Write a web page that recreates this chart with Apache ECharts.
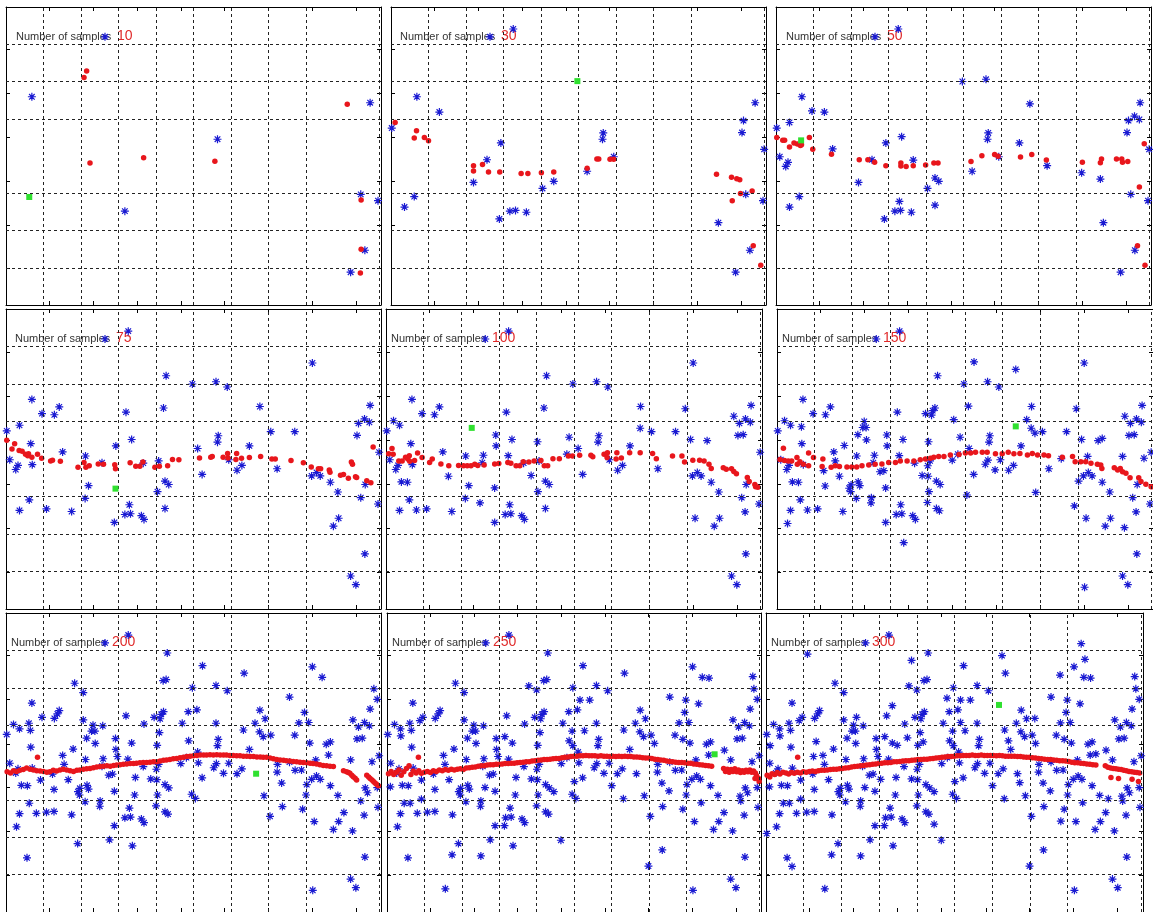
<!DOCTYPE html>
<html>
<head>
<meta charset="utf-8">
<script src="https://cdn.jsdelivr.net/npm/echarts@6/dist/echarts.min.js"></script>
<style>
  html, body { margin: 0; padding: 0; background: #fff; }
  #chart { width: 1153px; height: 912px; }
</style>
</head>
<body>
<div id="chart"></div>
<script>
// number of samples shown in each panel
const sampleCounts = [10, 30, 50, 75, 100, 150, 200, 250, 300];

// blue samples, in the batches added between two panels
const blueAdded10 = [[6.9,55.9],[26.4,72],[31.7,25.2],[56.4,44.5],[97.1,54.3],[94.6,29.7],[99.2,28],[95.7,14.7],[91.9,8.8]];
const blueAdded30 = [[0.2,47.5],[12.9,51.8],[3.6,26.3],[6.2,29.1],[22,32.9],[25.6,39],[29.3,43.5],[28.9,23.1],[33.2,25.4],[36.1,24.9],
  [32.6,74.1],[40.4,31.3],[43.4,33.2],[52.3,35.9],[56.6,46.2],[59.4,39.8],[87.3,22.1],[94,49.5],[93.6,46.3],[99.5,41.8]];
const blueAdded50 = [[9.6,52.1],[3.6,49],[1,39.8],[3.2,38.3],[2.6,37.2],[15.1,41.9],[32.9,27.8],[33.5,45.2],[36.6,38.9],[42.4,34.1],
  [42.4,26.8],[49.7,60],[56,60.6],[64.9,43.5],[67.7,54],[72.3,37.4],[81.5,35.5],[86.5,33.8],[95.6,50.7],[96.9,49.8]];
const blueAdded75 = [[14.2,53.9],[6.6,44.1],[7,38.5],[10.8,26.7],[17.5,26],[21.2,40.8],[21.1,29.5],[32,52.5],[36.8,23.9],[40.7,39.5],
  [42.7,62.2],[42,53.6],[59,59.2],[51.1,42.8],[61.6,37],[62.9,38.3],[70.6,47.3],[77,47.3],[81.7,65.6],[82.8,36.4],
  [83.8,35.5],[88.5,31.2],[88.7,24.2],[95.8,33.2],[93.3,6.5]];
const blueAdded100 = [[2,50.2],[4.1,33.9],[5.7,33.8],[8.1,26.4],[16.6,35.4],[25.9,41],[25,28.3],[28.9,32.3],[29.2,46.4],[32.5,40.9],
  [38.6,35.6],[40.3,44.6],[48.7,45.8],[48.1,41.3],[67.6,48.2],[79.6,53.4],[81,45.2],[85.4,44.9],[82.2,24.2],[92.5,51.4],
  [95,46.5],[95.5,25.9]];
const blueAdded150 = [[6.5,48.6],[2.8,22.8],[12.4,36.9],[15.5,39.5],[12.8,32.8],[17.9,43.6],[21.5,46.5],[23.2,50],[22.8,48.4],[23.7,48.4],
  [23.8,45.1],[27.4,36.6],[28.4,36.9],[19.2,32.2],[19.7,33.1],[21.6,33.9],[19.6,31.3],[25.1,29.7],[33.7,17.7],[40.1,38.2],
  [40.2,35.4],[40,28.4],[39.5,52.1],[41.4,52.9],[41.1,51.7],[43.2,26.2],[52.4,65.9],[50.9,54.1],[47,50.5],[46.6,39.7],
  [50.5,30.4],[55.4,38.6],[56.1,39.7],[58,37.1],[63.5,63.9],[66.4,50.5],[68.6,46.9],[68.8,31.1],[75.6,40.1],[82.6,40.7],
  [80.2,34.1],[79.1,27.5],[86.5,45.5],[97.6,40.2],[91.9,40.7],[92.4,21.7],[81.8,5.8]];
const blueAdded200 = [[13.7,53],[6.1,50.5],[5.6,14.5],[9.2,35.3],[12.8,26.9],[18.3,61.2],[20.6,58.7],[20.6,51.4],[25.8,49.8],[29.7,41.6],
  [27.6,19.3],[34.5,36],[34.3,31.3],[36.8,50.3],[40.9,48],[41.9,61.9],[43,69.3],[48.6,53.6],[49.5,31.5],[51.3,39.9],
  [56,50.5],[63.3,48.7],[69.1,51.7],[70.4,25.6],[72.4,39.5],[73.5,34.5],[73.7,28.2],[75.6,57.5],[77.1,37.9],[78.8,38],
  [78.1,50.6],[80,31.3],[84.3,62.8],[80.7,50.7],[86,42],[90.1,26.6],[98.1,59.7],[99,56.9],[99,33.3],[96.4,31.9],[19.1,18.3]];
const blueAdded250 = [[15.6,6.2],[37.9,60.5],[40,59.4],[51.6,56.7],[54.2,56.7],[49.5,48.4],[49.7,44.5],[52.8,48.5],[46.5,19.2],[31.5,46.9],
  [31.4,23.1],[25.1,15],[17.4,15.3],[8.8,51.2],[3.7,47.1],[0.9,33.5],[4.6,29.1],[9.2,30.2],[26.2,33.3],[44.6,32.2],
  [50.1,34.9],[71.5,45.1],[66.7,37],[63.2,30.3],[60.1,33.8],[69.9,12.3],[73.6,16.6],[75.4,32.4],[79.9,56.7],[79.1,46.2],
  [86.1,62.6],[83.3,55.7],[84,29.2],[90.2,43.3],[94.4,31],[97.8,63]];
const blueAdded300 = [[11,69],[0.2,21],[6.9,12.2],[38.6,67.3],[62.6,68.6],[48,57.2],[51.6,50.7],[44.6,23.5],[64.3,45.8],[71.3,51.8],
  [78,63.4],[78.2,24.3],[83.6,71.8],[84.6,67.6],[87.5,42.3],[90.8,30.3],[12.6,41.6],[13.3,45.6],[1.1,44.5],[24,52.1],
  [33.5,55.2],[34.8,44.6],[30.4,35.5],[37.5,46.6],[41.7,45.5],[67.3,34.6]];

// red estimates, one list per panel
const red10 = [[21.5,62.8],[20.8,61.1],[22.4,38.1],[36.7,39.5],[55.7,38.6],[91,53.9],[94.7,28.2],[94.7,15],[94.5,8.6]];
const red30 = [[1.1,49],[6.8,46.8],[6.2,44.8],[8.9,45],[10,44.1],[22,37.4],[22,36],[24.4,37.7],[26,35.7],[29,35.7],
  [34.7,35.3],[36.5,35.3],[40.1,35.5],[43.4,35.7],[52.3,36.7],[54.9,39.2],[55.4,39.2],[58.4,39.1],[59.4,39.1],[86.8,35.1],
  [90.8,34.3],[92.2,33.9],[93,33.6],[93.2,29.9],[91,28],[96.3,30.6],[96.6,15.9],[98.6,10.7]];
const red50 = [[0.2,45],[1.8,44.2],[2.3,44.2],[3.6,42.4],[4.8,43.5],[5.7,43.2],[6.5,42.8],[6.8,43],[8.9,45],[9.8,41.8],
  [14.8,40.5],[22.2,39],[24.5,39],[26.3,38.3],[29.3,37.4],[33.3,38.1],[33.3,37.3],[34.7,37.2],[36.6,37.4],[39.9,37.6],
  [42.1,38.1],[43.2,38.1],[52,38.5],[54.9,40.1],[58.3,40.4],[59.2,39.9],[65.2,39.7],[68.2,40.4],[72.1,38.9],[81.7,38.3],
  [86.5,38.2],[86.8,39.2],[90.8,39.2],[92.2,39.2],[92.4,38.3],[93.8,38.5],[98.2,43.3],[96.9,31.7],[96.4,15.9],[98.4,10.7]];
const red75 = [[0.2,45],[1.6,42.7],[2.3,44.1],[3.5,42.3],[4.3,42.1],[5.2,41.3],[6,41.4],[5.8,40.9],[6.9,40.5],[8.4,41.3],
  [9.5,40.2],[11.9,39.5],[12.4,39.7],[14.5,39.4],[19.2,37.8],[20.8,39.1],[21.3,37.8],[22.2,38.2],[24.6,38.7],[26,38.6],
  [29,38.5],[29.2,37.4],[33.1,39],[34.6,38.1],[35.7,38.1],[36.5,39.2],[39.7,37.8],[40.9,38.1],[43.1,38.2],[44.4,39.9],
  [46.1,39.8],[51.6,40.3],[54.6,40.5],[55,40.7],[57.9,40.5],[59.1,41.5],[59.2,40.3],[61.5,41.5],[61.3,39.9],[62.8,40.2],
  [64.9,40.4],[67.9,40.7],[70.9,40],[71.8,40],[76,39.6],[79.3,39],[81.4,37.9],[83.3,37.4],[83.9,37.4],[86.2,37.1],
  [86.4,36.5],[89.2,35.7],[90,35.9],[91.3,34.9],[92.1,39.2],[92.4,38.6],[93.2,35.3],[93.5,35.1],[96.2,34.2],[97.3,33.7],[97.9,43.2]];
const red100 = [[0.7,41.4],[1.6,42.8],[1.9,41.3],[3.4,39.5],[4.3,39.5],[5.2,40.5],[5.8,40],[6.2,40.9],[6.3,39.4],[7.6,39.6],
  [8.4,41.6],[9.6,40.4],[11.6,39.1],[12.3,40],[14.6,38.7],[16.7,38.2],[19.3,38.3],[20.6,38.2],[21.6,38.2],[22.6,38.2],
  [23.6,38.6],[24.4,38.3],[26.1,38.4],[28.9,38.7],[30,38.8],[32.4,39.1],[33.2,38.9],[34.6,38.2],[35.6,38.2],[36.5,39.3],
  [38,39.2],[39.4,39.5],[41.2,39.6],[42.1,38.2],[43,38.2],[44.4,40.1],[46.1,40.1],[48.5,40.8],[49.6,40.8],[51.5,41],
  [54.5,41],[55,40.6],[58,41.3],[58.9,41.7],[58.8,40.4],[61.4,41.7],[61.2,40],[62.6,40.3],[64.8,41.7],[67.6,41.7],
  [70.9,41.5],[71.9,40.1],[76.2,40.8],[78.7,40.8],[79.4,39.2],[81.6,39.7],[83.4,39.7],[84.6,39.5],[85.9,38.6],[86.5,37.5],
  [89.7,37.7],[90.5,37.3],[91.9,37.4],[92.5,36.7],[93.2,36.1],[96.1,35.1],[96.6,34],[98.1,33.2],[98.9,32.5],[98.3,32.6]];
const red150 = [[1.7,42.9],[0.8,39.9],[2,39.6],[3,39.5],[3.9,39.5],[5.3,40.4],[5.4,38.6],[6.1,39.3],[7,38.6],[8.4,41.6],
  [8.4,38.2],[9.7,40.4],[12.2,40],[12,38],[14.4,37.8],[15.5,38.2],[16.6,38],[18.6,37.9],[19.9,37.9],[21.2,37.9],
  [22.6,38.2],[24.4,38.4],[26.1,38.6],[27.9,38.7],[29.7,39.1],[31.5,39.1],[32.8,39.5],[34.6,39.5],[36.4,39.5],[38.1,39.8],
  [39.5,40],[40.8,40.2],[41.7,40.5],[43,40.7],[44.4,40.7],[46.1,41.1],[48.4,41.2],[50.1,41.6],[51.5,41.6],[52.8,41.8],
  [54.6,41.8],[55.9,41.8],[58.1,41.4],[59.9,41.4],[61.5,41.8],[63,41.4],[64.6,41.5],[66.6,41.1],[67.9,41.5],[69.3,41.1],
  [71,41.1],[72.2,40.9],[75.9,40.5],[78.6,40.7],[79.3,39.3],[80.8,39.3],[82.1,39.3],[83.5,38.9],[85.2,38.6],[86.1,38.4],
  [86.4,37.5],[89.7,37.7],[90.6,37.1],[91.3,37.5],[91.9,36.6],[92.8,36.2],[93.9,35],[96.2,35],[96.8,34],[98.1,33.3],[99.5,32.6]];
const red200 = [[0.3,37.5],[1.2,37.2],[2,37.8],[2.8,37.6],[3.7,37.9],[4.6,38.1],[5.5,38.5],[6.4,38.2],[7.3,38],[8.2,37.8],
  [9.1,37.7],[10,37.6],[10.9,37.4],[11.7,37.5],[12.6,37.9],[13.5,37.7],[14.4,38],[15.3,38.2],[16.2,38],[17.1,37.8],
  [18,37.6],[18.9,37.9],[19.7,38],[20.6,38.2],[21.5,38.3],[22.4,38.4],[23.3,38.6],[24.2,38.8],[25.1,38.9],[26,39],
  [26.9,39.1],[27.8,39],[28.7,39.2],[29.5,39.3],[30.4,39.4],[31.3,39.5],[32.2,39.6],[33.1,39.7],[34,39.7],[34.8,39.8],
  [35.7,39.9],[36.6,40],[37.5,40],[38.4,40.1],[39.3,40.2],[40.2,40.2],[41.1,40.4],[42,40.6],[42.8,40.7],[43.7,40.8],
  [44.6,41],[45.5,41.1],[46.4,41.3],[47.3,41.4],[48.2,41.6],[49.1,41.7],[50,41.8],[50.9,41.9],[51.8,42],[52.7,42],
  [53.5,42],[54.4,42.1],[55.3,42],[56.2,42.1],[57.1,42],[58,42],[58.8,42],[59.7,41.9],[60.6,41.9],[61.5,41.8],
  [62.4,41.8],[63.3,41.7],[64.2,41.7],[65.1,41.6],[66,41.6],[66.9,41.5],[67.8,41.5],[68.6,41.4],[69.5,41.4],[70.4,41.2],
  [71.3,41],[72.2,40.8],[73.1,40.7],[74,40.6],[74.8,40.5],[75.7,40.4],[76.6,40.3],[77.5,40.2],[78.4,40.1],[79.3,40],
  [80.2,39.9],[81.1,39.8],[81.9,39.7],[82.8,39.6],[83.7,39.4],[84.6,39.2],[85.5,39.1],[86.4,39],[87.3,38.9],[90,37.8],
  [90.8,37.5],[91.3,37.3],[91.7,37.1],[92.2,36.6],[92.6,36.2],[93.1,35.8],[93.5,35.3],[96.2,36.6],[96.7,36.1],[97.1,35.7],
  [97.6,35.3],[98,34.9],[98.4,34.5],[98.8,34.2],[99.3,33.8],[8.4,41.4]];
const red250 = [[0.4,37],[1.1,37.6],[1.8,36.8],[2.5,37.4],[3.2,38],[3.8,36.6],[4.5,37.5],[5.2,38.4],[5.9,39.1],[6.4,36.8],
  [7,37.7],[7.8,37.2],[8.5,37.8],[9.2,37.1],[10,37.4],[10.8,37.6],[11.6,37.3],[12.4,37.8],[13.2,37.6],[14,38],
  [14.8,37.8],[15.6,38.1],[16.4,37.9],[17.2,38.2],[18,38],[18.8,38.2],[19.6,38.3],[20.4,38.1],[21.2,38.5],[22,38.6],
  [22.8,38.7],[23.6,38.8],[24.4,39],[25.2,39.1],[26,39.1],[26.8,39.3],[27.6,39.4],[28.4,39.4],[29.2,39.5],[30,39.5],
  [30.8,39.6],[31.6,39.7],[32.4,39.7],[33.2,39.8],[34,39.8],[34.8,39.9],[35.6,40],[36.4,40.1],[37.2,40.2],[38,40.2],
  [38.8,40.4],[39.6,40.5],[40.4,40.6],[41.2,40.7],[42,40.8],[42.8,40.8],[43.6,40.9],[44.4,41],[45.2,41.1],[46,41.1],
  [46.8,41.3],[47.6,41.4],[48.4,41.5],[49.2,41.6],[50,41.7],[50.8,41.7],[51.6,41.8],[52.4,41.8],[53.2,41.9],[54,41.8],
  [54.8,41.8],[55.6,41.8],[56.4,41.7],[57.2,41.8],[58,41.7],[58.8,41.7],[59.6,41.6],[60.4,41.7],[61.2,41.6],[62,41.7],
  [62.8,41.6],[63.6,41.7],[64.4,41.6],[65.2,41.6],[66,41.5],[66.8,41.5],[67.6,41.4],[68.4,41.3],[69.2,41.2],[70,41.2],
  [70.8,41.1],[71.6,40.9],[72.4,40.8],[73.2,40.7],[74,40.6],[74.8,40.4],[75.6,40.3],[76.4,40.2],[77.2,40.1],[78,40],
  [78.8,40],[79.6,39.9],[80.4,39.8],[81.2,39.8],[82,39.6],[82.8,39.5],[83.6,39.4],[84.4,39.3],[85.2,39.2],[86,39.1],
  [86.8,39],[90,38.4],[90.5,37.6],[91,38.2],[91.5,37.4],[92,38.1],[92.5,37.6],[93,38.3],[93.5,37.5],[94,38],
  [94.5,37.3],[95,37.8],[95.5,37.4],[96,37.9],[96.5,37.5],[97,38],[97.5,37.4],[98,37.7],[98.5,37.2],[98.8,36.5],
  [99.3,35.8],[98.4,35.7],[99.5,34.9],[8.4,41.4]];
const red300 = [[0.3,36.6],[1,36.1],[1.6,37],[2.3,36.8],[3,37.3],[3.7,36.9],[4.5,37.4],[5.3,37.2],[6,36.9],[6.8,37.3],
  [7.5,37.1],[8.3,37.4],[9.1,37.2],[9.9,37.5],[10.7,37.4],[11.5,37.6],[12.3,37.7],[13.1,37.6],[13.9,37.8],[14.7,37.9],
  [15.5,37.9],[16.3,38],[17.1,38.1],[17.9,38.2],[18.7,38.2],[19.5,38.3],[20.3,38.4],[21.1,38.5],[21.9,38.6],[22.7,38.8],
  [23.5,38.9],[24.3,39],[25.1,39.1],[25.9,39.2],[26.7,39.3],[27.5,39.4],[28.3,39.5],[29.1,39.6],[29.9,39.7],[30.7,39.8],
  [31.5,39.9],[32.3,39.9],[33.1,40],[33.9,40.2],[34.7,40.2],[35.5,40.3],[36.3,40.4],[37.1,40.5],[37.9,40.5],[38.7,40.6],
  [39.5,40.7],[40.3,40.8],[41.1,40.8],[41.9,40.9],[42.7,40.9],[43.5,41],[44.3,41.1],[45.1,41.2],[45.9,41.3],[46.7,41.4],
  [47.5,41.5],[48.3,41.6],[49.1,41.6],[49.9,41.7],[50.7,41.8],[51.5,41.8],[52.3,41.9],[53.1,41.9],[53.9,41.9],[54.7,42],
  [55.5,41.9],[56.3,41.9],[57.1,42],[57.9,41.9],[58.7,41.9],[59.5,41.9],[60.3,41.9],[61.1,41.8],[61.9,41.9],[62.7,41.8],
  [63.5,41.7],[64.3,41.7],[65.1,41.7],[65.9,41.7],[66.7,41.6],[67.5,41.6],[68.3,41.5],[69.1,41.4],[69.9,41.4],[70.7,41.3],
  [71.5,41.2],[72.3,41.1],[73.1,41],[73.9,40.9],[74.7,40.8],[75.5,40.8],[76.3,40.7],[77.1,40.6],[77.9,40.5],[78.7,40.5],
  [79.5,40.4],[80.3,40.3],[81.1,40.1],[81.9,39.9],[82.7,39.9],[83.5,39.8],[84.3,39.7],[85.1,39.6],[85.9,39.5],[86.7,39.4],
  [87.5,39.3],[90,39.1],[90.7,38.7],[91.4,38.5],[92.1,38.4],[92.8,38.3],[93.5,38.2],[94.2,38.1],[94.9,37.9],[95.6,37.8],
  [96.3,37.6],[97,37.5],[97.7,37.4],[98.4,37.3],[99.1,37.2],[91.5,36],[93.5,35.7],[97.1,35.5],[98.8,34.9],[8.4,41.4]];
const redSets = [red10, red30, red50, red75, red100, red150, red200, red250, red300];

// green marker, one per panel
const greenPoints = [[6.2,29],[49.7,60.1],[6.7,44.2],[29.2,32.1],[22.8,48.3],[63.5,48.7],[66.7,37],[87.6,42.2],[61.8,55.4]];

// axis ticks and dashed grid lines
const xTicks = [11.5, 23.2, 34.9, 46.6, 58.3, 69.9, 81.6, 93.3];
const yTicks = [9.75, 21.5, 33.3, 45, 56.8, 68.6];
const xGridLines = [10, 20, 30, 40, 50, 60, 70, 80, 99.5];
const yGridLines = [10, 20, 30, 50, 60, 70];

// panel boxes in px and label offset
const panels = [
  { left: 6, top: 7, width: 375, height: 298, labelDx: 10 },
  { left: 391, top: 7, width: 375, height: 298, labelDx: 9 },
  { left: 776, top: 7, width: 375, height: 298, labelDx: 10 },
  { left: 6, top: 309, width: 375, height: 300, labelDx: 9 },
  { left: 386, top: 309, width: 376, height: 300, labelDx: 5 },
  { left: 777, top: 309, width: 376, height: 300, labelDx: 5 },
  { left: 6, top: 613, width: 375, height: 300, labelDx: 5 },
  { left: 387, top: 613, width: 374, height: 300, labelDx: 5 },
  { left: 766, top: 613, width: 377, height: 300, labelDx: 5 }
];

const blueAdded = [blueAdded10, blueAdded30, blueAdded50, blueAdded75, blueAdded100,
  blueAdded150, blueAdded200, blueAdded250, blueAdded300];

const starPath = "path://M5,0L5,10M0,5L10,5M1.5,1.5L8.5,8.5M1.5,8.5L8.5,1.5";

function axisStyle(ticks) {
  return {
    axisLine: { show: true, onZero: false, lineStyle: { color: "#000", width: 1 } },
    axisTick: { show: true, inside: true, length: 4, customValues: ticks, lineStyle: { color: "#000", width: 1 } },
    axisLabel: { show: false },
    splitLine: { show: false }
  };
}

const chart = echarts.init(document.getElementById("chart"));
const option = {
  animation: false,
  backgroundColor: "#fff",
  grid: [],
  xAxis: [],
  yAxis: [],
  series: [],
  graphic: []
};

let blueSoFar = [];
panels.forEach((p, i) => {
  blueSoFar = blueSoFar.concat(blueAdded[i]);
  option.grid.push({ left: p.left, top: p.top, width: p.width, height: p.height, show: false });
  ["bottom", "top"].forEach((pos) => {
    option.xAxis.push(Object.assign({ gridIndex: i, type: "value", min: 0, max: 100, position: pos }, axisStyle(xTicks)));
  });
  ["left", "right"].forEach((pos) => {
    option.yAxis.push(Object.assign({ gridIndex: i, type: "value", min: 0, max: 80, position: pos }, axisStyle(yTicks)));
  });
  const ax = { xAxisIndex: 2 * i, yAxisIndex: 2 * i };

  // dashed grid
  option.series.push(Object.assign({
    type: "scatter",
    data: [],
    silent: true,
    z: 1,
    markLine: {
      silent: true,
      symbol: ["none", "none"],
      label: { show: false },
      lineStyle: { color: "#222", width: 1, type: [3, 3] },
      data: xGridLines.map((v) => ({ xAxis: v })).concat(yGridLines.map((v) => ({ yAxis: v })))
    }
  }, ax));

  option.series.push(Object.assign({
    type: "scatter",
    data: blueSoFar.slice(),
    symbol: starPath,
    symbolSize: 8,
    z: 3,
    itemStyle: { color: "#1a1ad2", borderColor: "#1a1ad2", borderWidth: 1.2, opacity: 1 }
  }, ax));

  option.series.push(Object.assign({
    type: "scatter",
    data: redSets[i],
    symbol: "circle",
    symbolSize: 5.5,
    z: 4,
    itemStyle: { color: "#e8161c", opacity: 1 }
  }, ax));

  option.series.push(Object.assign({
    type: "scatter",
    data: [greenPoints[i]],
    symbol: "rect",
    symbolSize: 6,
    z: 5,
    itemStyle: { color: "#2fe02f", opacity: 1 }
  }, ax));

  const baseline = p.top + 33.5;
  option.graphic.push({
    type: "text",
    left: p.left + p.labelDx,
    top: baseline - 9,
    z: 0,
    style: { text: "Number of samples", font: '11px "Liberation Sans", Arial, sans-serif', fill: "#333" }
  });
  option.graphic.push({
    type: "text",
    left: p.left + p.labelDx + 101,
    top: baseline - 11.5,
    z: 0,
    style: { text: String(sampleCounts[i]), font: '14px "Liberation Sans", Arial, sans-serif', fill: "#e02a2a" }
  });
});

chart.setOption(option);
</script>
</body>
</html>
